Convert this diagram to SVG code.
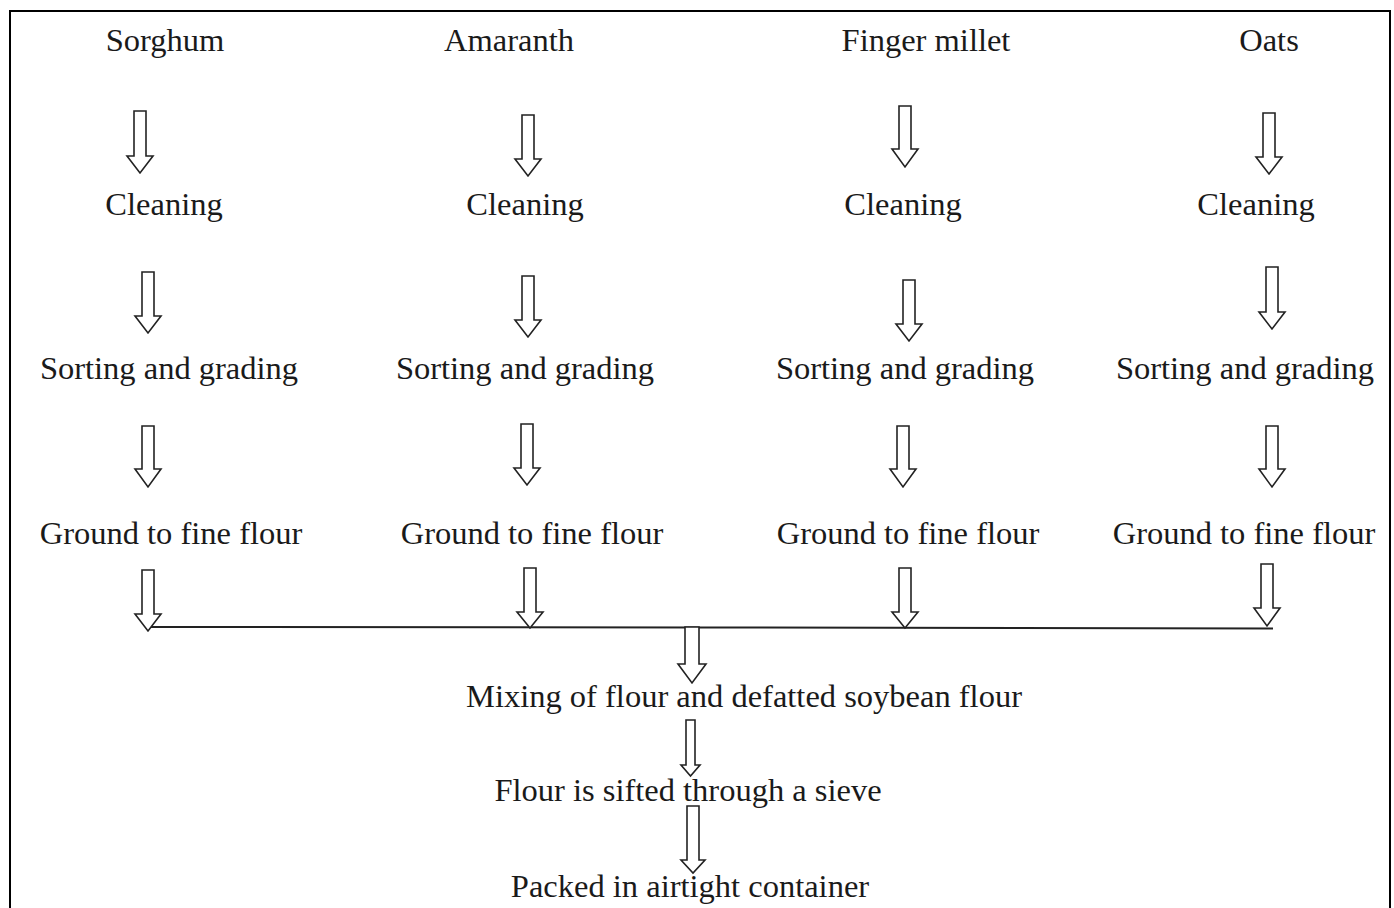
<svg xmlns="http://www.w3.org/2000/svg" width="1394" height="908" viewBox="0 0 1394 908">
  <style>
    .t { font-family: "Liberation Serif", "Times New Roman", serif; font-size: 32.5px; fill: #1a1a1a; text-anchor: middle; }
    .arr { fill: #ffffff; stroke: #222222; stroke-width: 1.6; stroke-linejoin: miter; }
    .ln { stroke: #222222; stroke-width: 2; fill: none; }
  </style>
  <rect x="0" y="0" width="1394" height="908" fill="#ffffff"/>
  <rect id="frame" x="10" y="11" width="1380" height="920" fill="none" stroke="#000000" stroke-width="2"/>

  <g id="n-sorghum"><text class="t" x="165" y="51">Sorghum</text></g>
  <g id="n-amaranth"><text class="t" x="509" y="51">Amaranth</text></g>
  <g id="n-finger-millet"><text class="t" x="926" y="51">Finger millet</text></g>
  <g id="n-oats"><text class="t" x="1269" y="51">Oats</text></g>

  <g id="n-clean-1"><text class="t" x="164" y="215">Cleaning</text></g>
  <g id="n-clean-2"><text class="t" x="525" y="215">Cleaning</text></g>
  <g id="n-clean-3"><text class="t" x="903" y="215">Cleaning</text></g>
  <g id="n-clean-4"><text class="t" x="1256" y="215">Cleaning</text></g>

  <g id="n-sort-1"><text class="t" x="169" y="379">Sorting and grading</text></g>
  <g id="n-sort-2"><text class="t" x="525" y="379">Sorting and grading</text></g>
  <g id="n-sort-3"><text class="t" x="905" y="379">Sorting and grading</text></g>
  <g id="n-sort-4"><text class="t" x="1245" y="379">Sorting and grading</text></g>

  <g id="n-ground-1"><text class="t" x="171" y="544">Ground to fine flour</text></g>
  <g id="n-ground-2"><text class="t" x="532" y="544">Ground to fine flour</text></g>
  <g id="n-ground-3"><text class="t" x="908" y="544">Ground to fine flour</text></g>
  <g id="n-ground-4"><text class="t" x="1244" y="544">Ground to fine flour</text></g>

  <g id="n-mixing"><text class="t" x="744" y="707">Mixing of flour and defatted soybean flour</text></g>
  <g id="n-sifted"><text class="t" x="688" y="801">Flour is sifted through a sieve</text></g>
  <g id="n-packed"><text class="t" x="690" y="897">Packed in airtight container</text></g>

  <g id="connectors">
    <!-- row 1 -->
    <path class="arr" d="M134 111 H146 V156 H153 L140 173 L127 156 H134 Z"/>
    <path class="arr" d="M522 115 H534 V159 H541 L528 176 L515 159 H522 Z"/>
    <path class="arr" d="M899 106 H911 V149 H918 L905 167 L892 149 H899 Z"/>
    <path class="arr" d="M1263 113 H1275 V157 H1282 L1269 174 L1256 157 H1263 Z"/>
    <!-- row 2 -->
    <path class="arr" d="M142 272 H154 V316 H161 L148 333 L135 316 H142 Z"/>
    <path class="arr" d="M522 276 H534 V320 H541 L528 337 L515 320 H522 Z"/>
    <path class="arr" d="M903 280 H915 V324 H922 L909 341 L896 324 H903 Z"/>
    <path class="arr" d="M1266 267 H1278 V312 H1285 L1272 329 L1259 312 H1266 Z"/>
    <!-- row 3 -->
    <path class="arr" d="M142 426 H154 V469 H161 L148 487 L135 469 H142 Z"/>
    <path class="arr" d="M521 424 H533 V468 H540 L527 485 L514 468 H521 Z"/>
    <path class="arr" d="M897 426 H909 V469 H916 L903 487 L890 469 H897 Z"/>
    <path class="arr" d="M1266 426 H1278 V469 H1285 L1272 487 L1259 469 H1266 Z"/>
    <!-- row 4 -->
    <path class="ln" d="M148 627 L700 627.5 L1273 628.5"/>
    <path class="arr" d="M142 570 H154 V614 H161 L148 631 L135 614 H142 Z"/>
    <path class="arr" d="M524 568 H536 V612 H543 L530 628 L517 612 H524 Z"/>
    <path class="arr" d="M899 568 H911 V612 H918 L905 628 L892 612 H899 Z"/>
    <path class="arr" d="M1261 564 H1273 V608 H1280 L1267 626 L1254 608 H1261 Z"/>
    <!-- merge down -->
    <path class="arr" d="M685 627 H699 V664 H706 L692 683 L678 664 H685 Z"/>
    <path class="arr" d="M686 720 H695 V765 H700 L690.5 776 L681 765 H686 Z"/>
    <path class="arr" d="M687 806 H699 V860 H705 L693 873 L681 860 H687 Z"/>
  </g>
</svg>
